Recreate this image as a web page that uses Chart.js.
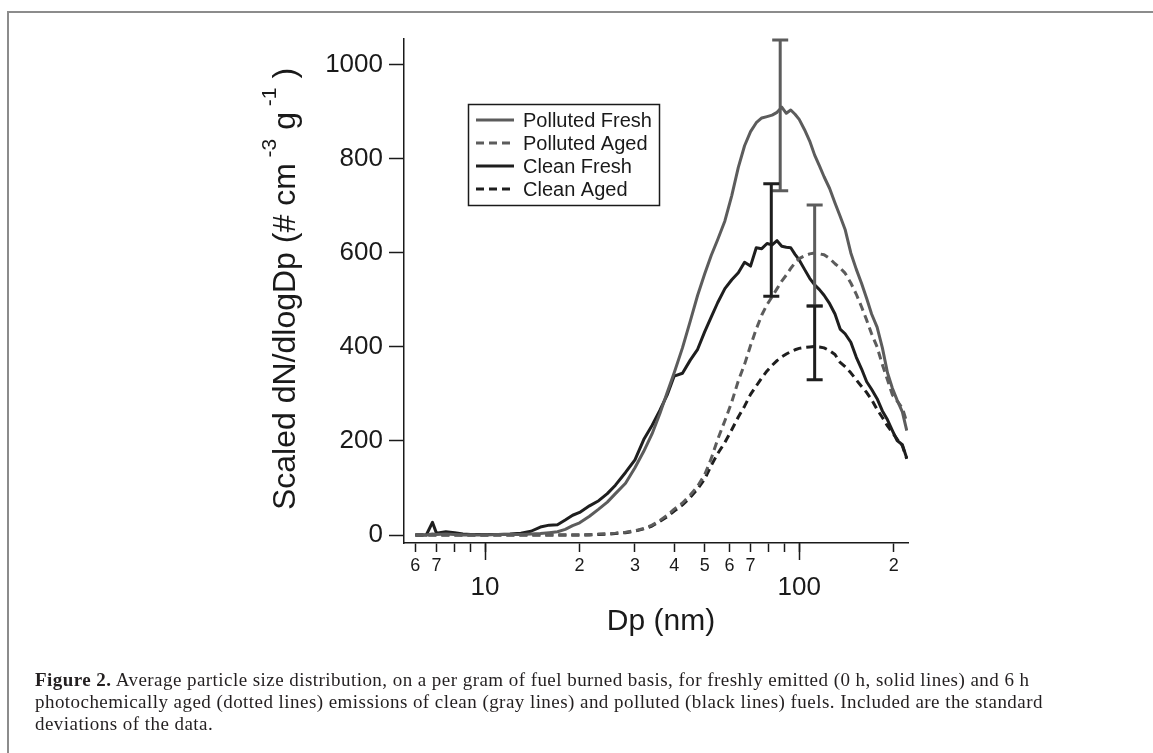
<!DOCTYPE html>
<html><head><meta charset="utf-8">
<script src="https://cdn.jsdelivr.net/npm/chart.js@4.4.1/dist/chart.umd.min.js"></script>
<style>
html,body{margin:0;padding:0;background:#fff;width:1153px;height:753px;overflow:hidden;position:relative;}
#frameTop{position:absolute;left:7px;top:11px;width:1146px;height:2px;background:#8c8c8c;}
#frameLeft{position:absolute;left:7px;top:11px;width:2px;height:742px;background:#8c8c8c;}
#wrap{position:absolute;left:0;top:0;width:1153px;height:670px;}
#caption{position:absolute;left:35px;top:669px;font-family:"Liberation Serif","DejaVu Serif",serif;font-size:19px;letter-spacing:0.45px;line-height:22px;color:#231f20;white-space:nowrap;}
</style></head>
<body>
<div id="frameTop"></div><div id="frameLeft"></div>
<div id="wrap"><canvas id="c" width="1153" height="670"></canvas></div>
<div id="caption"><b>Figure 2.</b> Average particle size distribution, on a per gram of fuel burned basis, for freshly emitted (0 h, solid lines) and 6 h<br>photochemically aged (dotted lines) emissions of clean (gray lines) and polluted (black lines) fuels. Included are the standard<br>deviations of the data.</div>
<script>
// ---- data ----
const dp = [6.0,6.5,6.8,7.0,7.5,8,8.5,9,10,11,12,13,14,15,16,17,18,19,20,21.5,23,24.5,26,28,30,32,34,36,38,40,42.5,45,47.5,50,52.5,55,58,61,64,67,70,73,76,79,82,85,88,91,94,97,100,104,108,112,116,120,125,130,135,140,146,152,158,164,170,177,184,191,198,205,213,220];
const pollutedFresh = [0,0,2,1,2,1,0,0,0,1,1,1,2,3,5,7,12,20,26,40,55,70,88,110,143,178,215,258,303,345,398,455,510,555,595,628,668,722,782,828,858,877,887,890,893,899,910,897,904,895,884,862,838,808,785,762,737,706,678,650,600,565,535,503,470,442,398,345,312,287,262,222];
const pollutedAged = [0,0,0,0,0,0,0,0,0,0,0,0,0,0,0,0,0,0,0,1,2,3,4,6,9,14,21,31,42,55,68,85,104,128,163,203,243,283,328,363,403,438,468,490,507,524,540,553,567,579,588,594,598,600,598,596,588,577,568,557,536,512,485,457,428,400,362,330,298,285,270,240];
const cleanFresh = [0,0,27,4,7,5,2,1,1,1,2,4,8,17,21,22,32,42,48,62,73,88,106,133,160,203,233,265,298,338,344,372,395,432,464,494,524,543,558,580,572,611,609,620,617,626,614,612,611,597,585,565,546,532,522,510,492,470,438,428,410,378,353,326,310,290,264,245,222,201,192,163];
const cleanAged = [0,0,0,0,0,0,0,0,0,0,0,0,0,0,0,0,0,0,0,0,1,2,3,5,8,13,19,29,39,51,64,80,98,119,148,173,197,224,251,274,299,317,334,349,361,371,379,385,390,394,397,399,400,401,400,398,392,384,367,358,345,330,316,303,288,267,250,232,218,204,190,162];
const seriesNames = ['Polluted Fresh','Polluted Aged','Clean Fresh','Clean Aged'];
// error bars (one per series)
const errDp   = [87, 112, 81.5, 112];
const errLow  = [732, 487, 508, 330];
const errHigh = [1053, 702, 747, 487];
// ticks
const xTickVals = [6,7,8,9,10,20,30,40,50,60,70,80,90,100,200];
const xTickLabels = ['6','7','','','','2','3','4','5','6','7','','','','2'];
const xMajorVals = [10,100];
const xMajorLabels = ['10','100'];
const yTickVals = [0,200,400,600,800,1000];
const yTickLabels = ['0','200','400','600','800','1000'];

const GRAY = '#5c5c5c', BLACK = '#1e1e1e', INK = '#1a1a1a';
const FONT = '"Liberation Sans", Arial, Helvetica, sans-serif';
const colors = [GRAY, GRAY, BLACK, BLACK];
const dashes = [[], [8,5], [], [8,5]];
const values = [pollutedFresh, pollutedAged, cleanFresh, cleanAged];

const datasets = seriesNames.map((n,i)=>({
  label:n,
  data: dp.map((d,j)=>({x:d, y:values[i][j]})),
  borderColor: colors[i], borderWidth: 3, borderDash: dashes[i],
  pointRadius: 0, showLine: true, fill:false, tension:0,
  borderJoinStyle:'round'
}));

const custom = {
  id:'custom',
  afterDatasetsDraw(chart){
    const ctx = chart.ctx, xs = chart.scales.x, ys = chart.scales.y;
    ctx.save();
    ctx.lineWidth = 3;
    for (let i=0;i<errDp.length;i++){
      const px = xs.getPixelForValue(errDp[i]);
      const p1 = ys.getPixelForValue(errLow[i]);
      const p2 = ys.getPixelForValue(errHigh[i]);
      ctx.strokeStyle = colors[i];
      ctx.beginPath();
      ctx.moveTo(px,p1); ctx.lineTo(px,p2);
      ctx.moveTo(px-8,p1); ctx.lineTo(px+8,p1);
      ctx.moveTo(px-8,p2); ctx.lineTo(px+8,p2);
      ctx.stroke();
    }
    ctx.restore();
  },
  afterDraw(chart){
    const ctx = chart.ctx, xs = chart.scales.x, ys = chart.scales.y;
    ctx.save();
    // long ticks for decades
    ctx.strokeStyle = INK; ctx.lineWidth = 1.5;
    xMajorVals.forEach(v=>{
      const px = Math.round(xs.getPixelForValue(v))+0.5;
      ctx.beginPath(); ctx.moveTo(px, xs.top); ctx.lineTo(px, xs.top+17); ctx.stroke();
    });
    ctx.fillStyle = INK;
    ctx.textAlign='center'; ctx.textBaseline='middle';
    ctx.font = '26px '+FONT;
    xMajorVals.forEach((v,i)=>ctx.fillText(xMajorLabels[i], xs.getPixelForValue(v), 588));
    // x title
    ctx.font = '30px '+FONT;
    ctx.fillText('Dp (nm)', 661, 622);
    // y title with superscripts
    ctx.translate(286, 289);
    ctx.rotate(-Math.PI/2);
    const big = '32px '+FONT, small = '21px '+FONT;
    const parts = [['Scaled dN/dlogDp (# cm',big,0],[' -3',small,-16],[' g',big,0],[' -1',small,-16],[' )',big,0]];
    let total = 0;
    parts.forEach(p=>{ctx.font=p[1]; total += ctx.measureText(p[0]).width;});
    let x0 = -total/2;
    ctx.textAlign='left';
    parts.forEach(p=>{ctx.font=p[1]; ctx.fillText(p[0], x0, p[2]); x0 += ctx.measureText(p[0]).width;});
    ctx.restore();
    // legend
    ctx.save();
    ctx.strokeStyle = INK; ctx.lineWidth = 1.5;
    ctx.strokeRect(468.5, 104.5, 191, 101);
    ctx.font = '20px '+FONT; ctx.textBaseline='middle'; ctx.textAlign='left';
    chart.data.datasets.forEach((ds,i)=>{
      const y = 120 + i*23;
      ctx.strokeStyle = ds.borderColor; ctx.lineWidth = 3; ctx.setLineDash(ds.borderDash);
      ctx.beginPath(); ctx.moveTo(476,y); ctx.lineTo(514,y); ctx.stroke();
      ctx.setLineDash([]);
      ctx.fillStyle = INK; ctx.fillText(ds.label, 523, y+1);
    });
    ctx.restore();
  }
};

new Chart(document.getElementById('c'), {
  type:'scatter',
  data:{datasets},
  options:{
    responsive:false, animation:false, devicePixelRatio:1,
    layout:{padding:{left:304, right:245, top:39, bottom:47}},
    plugins:{legend:{display:false}, tooltip:{enabled:false}},
    scales:{
      x:{type:'logarithmic', min:5.52, max:222, position:'bottom',
        afterBuildTicks(s){ s.ticks = xTickVals.map(v=>({value:v})); },
        afterFit(s){ s.height = 80; },
        grid:{display:true, drawOnChartArea:false, drawTicks:true, tickLength:9, tickColor:INK, tickWidth:1.5},
        border:{display:true, color:INK, width:1.5},
        ticks:{autoSkip:false, maxRotation:0, minRotation:0, padding:3, color:INK, font:{family:FONT, size:18},
          callback:(v,i)=>xTickLabels[i]}
      },
      y:{type:'linear', min:-17, max:1055,
        afterBuildTicks(s){ s.ticks = yTickVals.map(v=>({value:v})); },
        afterFit(s){ s.width = 100; },
        grid:{display:true, drawOnChartArea:false, drawTicks:true, tickLength:15, tickColor:INK, tickWidth:1.5},
        border:{display:true, color:INK, width:1.5},
        ticks:{autoSkip:false, padding:6, color:INK, font:{family:FONT, size:26},
          callback:(v,i)=>yTickLabels[i]}
      }
    }
  },
  plugins:[custom]
});
</script>
</body></html>
